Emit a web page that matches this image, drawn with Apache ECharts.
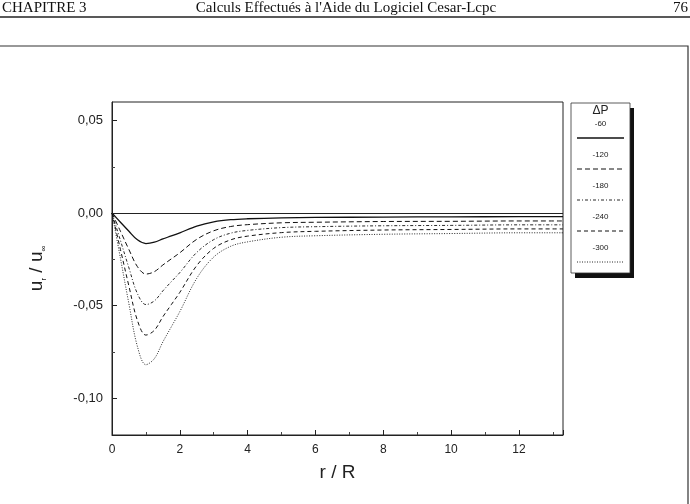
<!DOCTYPE html>
<html>
<head>
<meta charset="utf-8">
<script src="https://cdn.jsdelivr.net/npm/echarts@6/dist/echarts.min.js"></script>
<style>
html, body { margin: 0; padding: 0; background: #fff; }
#main { width: 690px; height: 504px; }
</style>
</head>
<body>
<div id="main"></div>
<script>
// valeurs (r/R en abscisse, ur/u∞ en ordonnée)
var rValues = [0, 0.25, 0.5, 0.75, 1, 1.25, 1.5, 1.75, 2, 2.5, 3, 3.5, 4, 5, 6, 8, 10, 12, 13.3];
var dpNames = ['-60', '-120', '-180', '-240', '-300'];
var u60  = [0, -0.0050, -0.0099, -0.0145, -0.0165, -0.0158, -0.0140, -0.0124, -0.0107, -0.0071, -0.0048, -0.0036, -0.0031, -0.0026, -0.0024, -0.0022, -0.0021, -0.0020, -0.0020];
var u120 = [0, -0.0099, -0.0198, -0.0290, -0.0330, -0.0317, -0.0281, -0.0248, -0.0215, -0.0142, -0.0096, -0.0073, -0.0063, -0.0053, -0.0050, -0.0046, -0.0045, -0.0043, -0.0043];
var u180 = [0, -0.0149, -0.0297, -0.0436, -0.0495, -0.0475, -0.0421, -0.0371, -0.0322, -0.0213, -0.0144, -0.0109, -0.0094, -0.0079, -0.0074, -0.0069, -0.0067, -0.0064, -0.0064];
var u240 = [0, -0.0198, -0.0396, -0.0581, -0.0660, -0.0634, -0.0561, -0.0495, -0.0429, -0.0284, -0.0191, -0.0145, -0.0125, -0.0106, -0.0099, -0.0092, -0.0089, -0.0086, -0.0086];
var u300 = [0, -0.0246, -0.0492, -0.0722, -0.0820, -0.0787, -0.0697, -0.0615, -0.0533, -0.0353, -0.0238, -0.0180, -0.0156, -0.0131, -0.0123, -0.0115, -0.0111, -0.0107, -0.0107];
var yLabelValues = [0.05, 0, -0.05, -0.10];
var yMinorValues = [0.025, -0.025, -0.075];

var allValues = [u60, u120, u180, u240, u300];
// styles des traits
var dashes = ['solid', [5, 3], [3, 2, 1, 2], [4, 3], [1, 1.5]];
var widths = [1.3, 1, 0.9, 1, 0.9];

var chart = echarts.init(document.getElementById('main'));

var fmt = function (v) {
    return v.toFixed(2).replace('.', ',');
};

var series = allValues.map(function (vals, i) {
    var s = {
        name: dpNames[i],
        type: 'line',
        smooth: 0.35,
        symbol: 'none',
        data: rValues.map(function (r, k) { return [r, vals[k]]; }),
        lineStyle: { color: '#111', width: widths[i], type: dashes[i] },
        z: 3
    };
    if (i === 0) {
        s.markLine = {
            silent: true,
            symbol: 'none',
            label: { show: false },
            lineStyle: { color: '#222', width: 1, type: 'solid' },
            data: [{ yAxis: 0 }]
        };
    }
    return s;
});

// légende dessinée à la main (texte au-dessus du trait)
var lg = { x: 571, y: 103, w: 59, h: 170 };
var legendEls = [
    { type: 'rect', shape: { x: lg.x + 4, y: lg.y + 5, width: lg.w, height: lg.h }, style: { fill: '#111' } },
    { type: 'rect', shape: { x: lg.x, y: lg.y, width: lg.w, height: lg.h }, style: { fill: '#fff', stroke: '#333', lineWidth: 0.8 } },
    { type: 'text', x: lg.x + lg.w / 2, y: lg.y + 8, style: { text: 'ΔP', font: '12px "Liberation Sans"', fill: '#222', align: 'center', verticalAlign: 'middle' } }
];
dpNames.forEach(function (n, i) {
    var ty = lg.y + 21 + i * 31;
    legendEls.push({ type: 'text', x: lg.x + lg.w / 2, y: ty, style: { text: n, font: '8px "Liberation Sans"', fill: '#222', align: 'center', verticalAlign: 'middle' } });
    legendEls.push({ type: 'line', shape: { x1: lg.x + 6, y1: ty + 14, x2: lg.x + lg.w - 6, y2: ty + 14 }, style: { stroke: '#111', lineWidth: widths[i], lineDash: dashes[i] === 'solid' ? null : dashes[i] } });
});

var option = {
    animation: false,
    backgroundColor: '#fff',
    textStyle: { fontFamily: '"Liberation Sans", Arial, sans-serif' },
    grid: {
        left: 112, top: 102, right: 127, bottom: 69,
        show: true, borderColor: '#222', borderWidth: 1
    },
    xAxis: {
        type: 'value',
        min: 0, max: 13.3, interval: 2,
        name: 'r / R', nameLocation: 'middle', nameGap: 28,
        nameTextStyle: { fontSize: 19, color: '#222' },
        axisLine: { onZero: false, lineStyle: { color: '#222' } },
        axisTick: { inside: true, length: 5, lineStyle: { color: '#222' } },
        minorTick: { show: true, splitNumber: 2, length: 3, lineStyle: { color: '#444' } },
        axisLabel: { color: '#222', fontSize: 12, margin: 9, showMaxLabel: false },
        splitLine: { show: false }
    },
    yAxis: [{
        type: 'value',
        min: -0.12, max: 0.06,
        name: '{u|u}{s|r}{u| / u}{s|∞}', nameLocation: 'middle', nameGap: 64, nameRotate: 90,
        nameTextStyle: {
            color: '#222',
            rich: {
                u: { fontSize: 19, lineHeight: 22, color: '#222' },
                s: { fontSize: 8, lineHeight: 8, verticalAlign: 'bottom', color: '#222' }
            }
        },
        axisLine: { onZero: false, lineStyle: { color: '#222' } },
        axisTick: { inside: true, length: 5, customValues: yLabelValues, lineStyle: { color: '#222' } },
        axisLabel: { color: '#222', fontSize: 13, margin: 9, customValues: yLabelValues, formatter: fmt },
        splitLine: { show: false }
    }, {
        type: 'value',
        position: 'left',
        min: -0.12, max: 0.06,
        axisLine: { show: false, onZero: false },
        axisTick: { inside: true, length: 3, customValues: yMinorValues, lineStyle: { color: '#444' } },
        axisLabel: { show: false },
        splitLine: { show: false }
    }],
    graphic: [
        { type: 'text', x: 2, y: 8, style: { text: 'CHAPITRE 3', font: '15px "Liberation Serif"', fill: '#111', verticalAlign: 'middle' } },
        { type: 'text', x: 346, y: 8, style: { text: "Calculs Effectués à l'Aide du Logiciel Cesar-Lcpc", font: '15px "Liberation Serif"', fill: '#111', align: 'center', verticalAlign: 'middle' } },
        { type: 'text', x: 688, y: 8, style: { text: '76', font: '15px "Liberation Serif"', fill: '#111', align: 'right', verticalAlign: 'middle' } },
        { type: 'line', shape: { x1: 0, y1: 17, x2: 690, y2: 17 }, style: { stroke: '#222', lineWidth: 1.5 } },
        { type: 'polyline', shape: { points: [[0, 46], [688, 46], [688, 504]] }, style: { stroke: '#333', lineWidth: 1.2, fill: null } }
    ].concat(legendEls),
    series: series
};

chart.setOption(option);
</script>
</body>
</html>
